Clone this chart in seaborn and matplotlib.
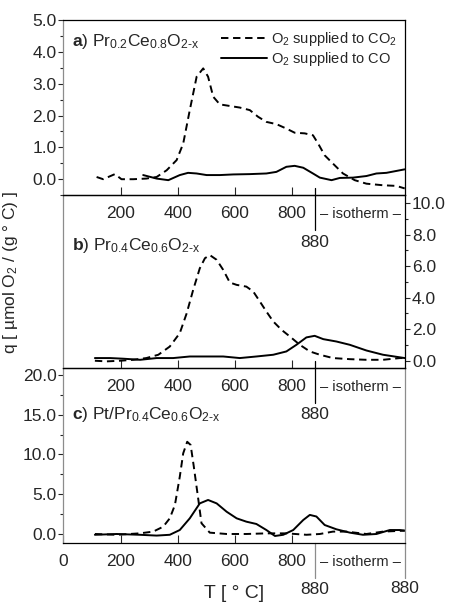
import numpy as np
import pandas as pd
import matplotlib
matplotlib.use('Agg')
from matplotlib import pyplot as plt
import matplotlib.transforms as mtransforms
from matplotlib.ticker import MultipleLocator, FormatStrFormatter
import seaborn as sns

# ---- data (x: temperature ramp 0-880 C, then isotherm up to ~1195) ----
T_a_co2 = [116, 139, 180, 203, 244, 290, 326, 361, 396, 419, 442, 466, 489, 506, 524, 547, 582, 617,
           652, 681, 710, 745, 780, 809, 844, 873, 891, 914, 943, 978, 1019, 1060, 1118, 1165, 1194]
q_a_co2 = [0.07, 0.0, 0.16, 0.0, 0.0, 0.02, 0.07, 0.28, 0.6, 1.12, 2.17, 3.22, 3.48, 3.22, 2.59, 2.35,
           2.30, 2.25, 2.17, 1.96, 1.80, 1.73, 1.59, 1.46, 1.44, 1.38, 1.12, 0.75, 0.49, 0.18, -0.03,
           -0.14, -0.19, -0.21, -0.29]
T_a_co = [279, 326, 367, 407, 436, 466, 501, 547, 594, 652, 710, 745, 780, 809, 839, 873, 897, 938,
          967, 1013, 1060, 1095, 1130, 1165, 1194]
q_a_co = [0.13, 0.02, -0.03, 0.13, 0.2, 0.18, 0.13, 0.13, 0.15, 0.16, 0.18, 0.23, 0.39, 0.42, 0.36,
          0.18, 0.05, -0.03, 0.04, 0.05, 0.1, 0.18, 0.2, 0.26, 0.31]

T_b_co2 = [110, 151, 198, 244, 290, 332, 372, 407, 431, 454, 477, 495, 512, 536, 559, 582, 606, 640,
           664, 687, 710, 734, 763, 792, 827, 862, 897, 943, 1002, 1060, 1118, 1177, 1194]
q_b_co2 = [0.0, -0.04, 0.0, 0.06, 0.17, 0.38, 0.9, 1.75, 3.0, 4.5, 5.86, 6.5, 6.7, 6.4, 5.76, 4.96,
           4.81, 4.7, 4.39, 3.76, 3.12, 2.49, 1.96, 1.54, 1.01, 0.59, 0.38, 0.17, 0.1, 0.06, 0.06,
           0.17, 0.17]
T_b_co = [110, 163, 209, 268, 326, 384, 442, 501, 559, 617, 675, 734, 780, 815, 850, 879, 909, 955,
          1002, 1060, 1118, 1194]
q_b_co = [0.17, 0.17, 0.13, 0.06, 0.17, 0.17, 0.27, 0.27, 0.27, 0.17, 0.27, 0.38, 0.59, 1.01, 1.48,
          1.58, 1.37, 1.22, 1.01, 0.65, 0.38, 0.17]

T_c_co2 = [110, 186, 267, 314, 349, 372, 390, 407, 419, 433, 445, 456, 472, 483, 512, 571, 640, 710,
           780, 850, 897, 943, 990, 1060, 1118, 1194]
q_c_co2 = [0.0, -0.1, 0.08, 0.3, 0.92, 1.97, 3.65, 7.2, 10.15, 11.6, 11.2, 8.5, 4.3, 1.35, 0.17, 0.0,
           0.0, 0.08, 0.08, -0.1, 0.0, 0.3, 0.3, 0.0, 0.3, 0.42]
T_c_co = [110, 186, 267, 326, 372, 407, 442, 477, 506, 536, 571, 606, 640, 675, 710, 740, 769, 804,
          839, 862, 885, 914, 955, 1002, 1048, 1095, 1142, 1177, 1194]
q_c_co = [-0.1, 0.0, -0.1, -0.2, -0.1, 0.5, 1.97, 3.85, 4.28, 3.85, 2.8, 1.97, 1.55, 1.26, 0.5, -0.25,
          -0.1, 0.5, 1.76, 2.4, 2.2, 1.13, 0.59, 0.17, -0.1, 0.0, 0.5, 0.5, 0.42]

series_names = ['O$_2$ supplied to CO$_2$', 'O$_2$ supplied to CO']
panel_labels = [r'$\mathbf{a}$) Pr$_{0.2}$Ce$_{0.8}$O$_{\text{2-x}}$',
                r'$\mathbf{b}$) Pr$_{0.4}$Ce$_{0.6}$O$_{\text{2-x}}$',
                r'$\mathbf{c}$) Pt/Pr$_{0.4}$Ce$_{0.6}$O$_{\text{2-x}}$']
x_ticks = [200, 400, 600, 800]
T_iso = 880
T_end = 1195

sns.set_theme(style='ticks')
plt.rcParams['font.family'] = ['Liberation Sans', 'DejaVu Sans']
plt.rcParams['mathtext.fontset'] = 'custom'
plt.rcParams['mathtext.rm'] = 'Liberation Sans'
plt.rcParams['mathtext.it'] = 'Liberation Sans:italic'
plt.rcParams['mathtext.bf'] = 'Liberation Sans:bold'


def make_df(T1, q1, T2, q2):
    d1 = pd.DataFrame({'T': T1, 'q': q1, 'serie': series_names[0]})
    d2 = pd.DataFrame({'T': T2, 'q': q2, 'serie': series_names[1]})
    return pd.concat([d1, d2], ignore_index=True)


dfs = [make_df(T_a_co2, q_a_co2, T_a_co, q_a_co),
       make_df(T_b_co2, q_b_co2, T_b_co, q_b_co),
       make_df(T_c_co2, q_c_co2, T_c_co, q_c_co)]
ylims = [(-0.5, 5.0), (-0.45, 10.5), (-1.13, 20.9)]
ymaj = [1.0, 2.0, 5.0]

fig = plt.figure(figsize=(4.5, 6.06), dpi=100)
left, right = 0.141, 0.9
bounds = [(0.678, 0.967), (0.393, 0.678), (0.104, 0.393)]
axes = []
for (b, t) in bounds:
    axes.append(fig.add_axes([left, b, right - left, t - b]))

grey = '0.55'
for i, ax in enumerate(axes):
    sns.lineplot(data=dfs[i], x='T', y='q', hue='serie', style='serie', hue_order=series_names,
                 style_order=series_names, palette=['black', 'black'],
                 dashes={series_names[0]: (3.8, 2.4), series_names[1]: ''},
                 linewidth=1.4, estimator=None, sort=False, ax=ax, legend=(i == 0))
    ax.set_xlim(0, T_end)
    ax.set_ylim(*ylims[i])
    ax.set_xlabel('')
    ax.set_ylabel('')
    ax.yaxis.set_major_locator(MultipleLocator(ymaj[i]))
    ax.yaxis.set_minor_locator(MultipleLocator(ymaj[i] / 2))
    ax.yaxis.set_major_formatter(FormatStrFormatter('%.1f'))
    ax.tick_params(axis='y', which='major', direction='out', length=3.5, width=0.8, labelsize=12.5, pad=1.5)
    ax.tick_params(axis='y', which='minor', direction='out', length=2, width=0.8)
    if i == 1:
        ax.yaxis.tick_right()
    for s in ax.spines.values():
        s.set_linewidth(0.9)
        s.set_color('black')
    ax.spines['left'].set_color(grey)
    if i == 2:
        ax.spines['right'].set_color(grey)
        ax.set_xticks([0] + x_ticks)
    else:
        ax.set_xticks(x_ticks)
    ax.tick_params(axis='x', which='major', direction='in', length=6, width=0.8, labelsize=12.5, pad=8)
    ax.tick_params(axis='x', which='minor', bottom=False)
    ax.set_zorder(3 - i)
    ax.patch.set_alpha(0)

    # isotherm marker below the ramp axis (offsets given in pixels)
    trans = mtransforms.blended_transform_factory(ax.transData, ax.transAxes)
    px = lambda p: p / ax.bbox.height
    col880 = grey if i == 2 else 'black'
    ax.plot([T_iso, T_iso], [px(0 if i == 2 else 7), -px(35)], color=col880, lw=0.9,
            transform=trans, clip_on=False)
    ax.text((T_iso + T_end) / 2, -px(19), '– isotherm –', transform=trans, ha='center', va='center',
            fontsize=10.5)
    ax.text(T_iso, -px(47), '880', transform=trans, ha='center', va='center', fontsize=12.5)
    if i == 2:
        ax.plot([T_end, T_end], [0, -px(35)], color=grey, lw=0.9, transform=trans, clip_on=False)
        ax.text(T_end, -px(46), '880', transform=trans, ha='center', va='center', fontsize=12.5)

    ax.text(0.026, [0.88, 0.711, 0.731][i], panel_labels[i], transform=ax.transAxes,
            ha='left', va='center', fontsize=12.5)

leg = axes[0].legend(loc='upper right', bbox_to_anchor=(1.01, 1.01), frameon=False, fontsize=10.5,
                     handlelength=3.2, handletextpad=0.25, labelspacing=0.15, borderaxespad=0.4)

fig.text(0.024, 0.551, 'q [ µmol O$_2$ / (g ° C) ]', rotation=90, ha='center', va='center', fontsize=12.5)
fig.text(0.52, 0.021, 'T [ ° C]', ha='center', va='center', fontsize=14)

fig.savefig('out.png', dpi=100)
plt.close()
